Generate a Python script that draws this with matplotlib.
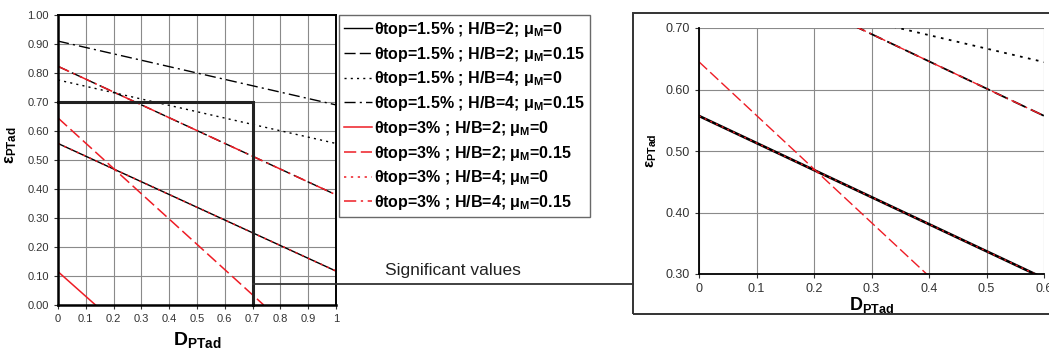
import numpy as np
import matplotlib.pyplot as plt
from matplotlib.lines import Line2D
from matplotlib.patches import Rectangle

plt.rcParams['font.family'] = ['Liberation Sans', 'DejaVu Sans']
plt.rcParams['mathtext.fontset'] = 'custom'
plt.rcParams['mathtext.rm'] = 'Liberation Sans'
plt.rcParams['mathtext.bf'] = 'Liberation Sans:bold'
plt.rcParams['mathtext.it'] = 'Liberation Sans:italic'

# ------------------------------------------------------------
# Data (straight lines: start / end points)
# ------------------------------------------------------------
labels = [r'$\mathbf{θ}$top=1.5% ; H/B=2; $\mathbf{μ}_\mathbf{M}$=0',
          r'$\mathbf{θ}$top=1.5% ; H/B=2; $\mathbf{μ}_\mathbf{M}$=0.15',
          r'$\mathbf{θ}$top=1.5% ; H/B=4; $\mathbf{μ}_\mathbf{M}$=0',
          r'$\mathbf{θ}$top=1.5% ; H/B=4; $\mathbf{μ}_\mathbf{M}$=0.15',
          r'$\mathbf{θ}$top=3% ; H/B=2; $\mathbf{μ}_\mathbf{M}$=0',
          r'$\mathbf{θ}$top=3% ; H/B=2; $\mathbf{μ}_\mathbf{M}$=0.15',
          r'$\mathbf{θ}$top=3% ; H/B=4; $\mathbf{μ}_\mathbf{M}$=0',
          r'$\mathbf{θ}$top=3% ; H/B=4; $\mathbf{μ}_\mathbf{M}$=0.15']

D_start = [0, 0, 0, 0, 0, 0, 0, 0]
D_end = [1, 1, 1, 1, 0.135, 0.74, 1, 1]
eps_start = [0.557, 0.823, 0.776, 0.910, 0.115, 0.645, 0.557, 0.823]
eps_end = [0.117, 0.380, 0.557, 0.690, 0.0, 0.0, 0.117, 0.380]

colors = ['black'] * 4 + ['#ee1c25'] * 4
dashes = [None, (8, 3), (1.5, 3), (8, 3, 1.5, 3),
          None, (8, 3), (1.5, 3), (8, 3, 1.5, 3)]

# "significant values" window
sig_D = 0.7
sig_eps = 0.7

fig = plt.figure(figsize=(10.49, 3.59), dpi=100)

# ------------------------------------------------------------
# LEFT PANEL
# ------------------------------------------------------------
ax = fig.add_axes([58/1049, 1-305/359, 278/1049, 290/359])

handles = []
for i in range(len(labels)):
    lw = 1.0 if i < 4 else 1.1
    ln, = ax.plot([D_start[i], D_end[i]], [eps_start[i], eps_end[i]],
                  color=colors[i], lw=lw, label=labels[i])
    if dashes[i] is not None:
        ln.set_dashes(dashes[i])
    handles.append(ln)

ax.plot([0, sig_D, sig_D], [sig_eps, sig_eps, 0], color='#222222', lw=2.2,
        solid_joinstyle='miter', clip_on=False)

ax.set_xlim(0, 1)
ax.set_ylim(0, 1)
ax.set_xticks(np.arange(0, 1.01, 0.1))
ax.set_xticklabels(['0'] + ['%.1f' % v for v in np.arange(0.1, 0.95, 0.1)] + ['1'])
ax.set_yticks(np.arange(0, 1.01, 0.1))
ax.set_yticklabels(['%.2f' % v for v in np.arange(0, 1.01, 0.1)])
ax.tick_params(labelsize=8, length=3, width=0.8, colors='#333333')
ax.grid(True, color='#8a8a8a', lw=0.8)
ax.set_axisbelow(True)
for s in ax.spines.values():
    s.set_linewidth(1.4)
    s.set_color('black')
ax.spines['left'].set_linewidth(1.8)
ax.spines['bottom'].set_linewidth(1.8)
ax.set_xlabel(r'$\mathbf{D}_\mathbf{PTad}$', fontsize=14, labelpad=4)
ax.set_ylabel(r'$\mathbf{ε}_\mathbf{PTad}$', fontsize=12, labelpad=2)
ax.yaxis.set_label_coords(-0.14, 0.55)

leg = fig.legend(handles=handles, loc='upper left',
                 bbox_to_anchor=(339/1049, 1-15/359), borderaxespad=0,
                 prop={'weight': 'bold', 'size': 11.5}, frameon=True,
                 fancybox=False, edgecolor='#444444', handlelength=1.75,
                 handletextpad=0.15, labelspacing=0.36, borderpad=0.3)
leg.get_frame().set_linewidth(1.0)

# ------------------------------------------------------------
# RIGHT PANEL (zoom on significant values)
# ------------------------------------------------------------
fig.add_artist(Rectangle((633/1049, 1-314/359), 0.5, 301/359,
                         transform=fig.transFigure, fill=False,
                         edgecolor='#333333', lw=1.4))

fig.add_artist(Line2D([253/1049, 633/1049], [1-284/359, 1-284/359],
                      transform=fig.transFigure, color='#333333', lw=1.3))
fig.text(453/1049, 1-270/359, 'Significant values', fontsize=12.5,
         ha='center', va='center', color='#222222')

ax2 = fig.add_axes([699/1049, 1-274/359, 345/1049, 246/359])
for i in range(len(labels)):
    if i < 4:
        lw = 1.9 if i == 0 else 1.3
    else:
        lw = 1.0
    ln, = ax2.plot([D_start[i], D_end[i]], [eps_start[i], eps_end[i]],
                   color=colors[i], lw=lw)
    if dashes[i] is not None:
        ln.set_dashes(dashes[i])

ax2.set_xlim(0, 0.6)
ax2.set_ylim(0.3, 0.7)
ax2.set_xticks(np.arange(0, 0.61, 0.1))
ax2.set_xticklabels(['0'] + ['%.1f' % v for v in np.arange(0.1, 0.65, 0.1)])
ax2.set_yticks(np.arange(0.3, 0.71, 0.1))
ax2.set_yticklabels(['%.2f' % v for v in np.arange(0.3, 0.71, 0.1)])
ax2.tick_params(labelsize=9, length=3, width=0.8, colors='#333333')
ax2.grid(True, color='#8a8a8a', lw=0.8)
ax2.set_axisbelow(True)
ax2.spines['top'].set_visible(False)
ax2.spines['right'].set_visible(False)
ax2.spines['left'].set_linewidth(1.3)
ax2.spines['bottom'].set_linewidth(1.3)
ax2.set_xlabel(r'$\mathbf{D}_\mathbf{PTad}$', fontsize=13, labelpad=0)
ax2.set_ylabel(r'$\mathbf{ε}_\mathbf{PTad}$', fontsize=11, labelpad=2)
ax2.yaxis.set_label_coords(-0.115, 0.5)

fig.savefig('out.png', dpi=100)
